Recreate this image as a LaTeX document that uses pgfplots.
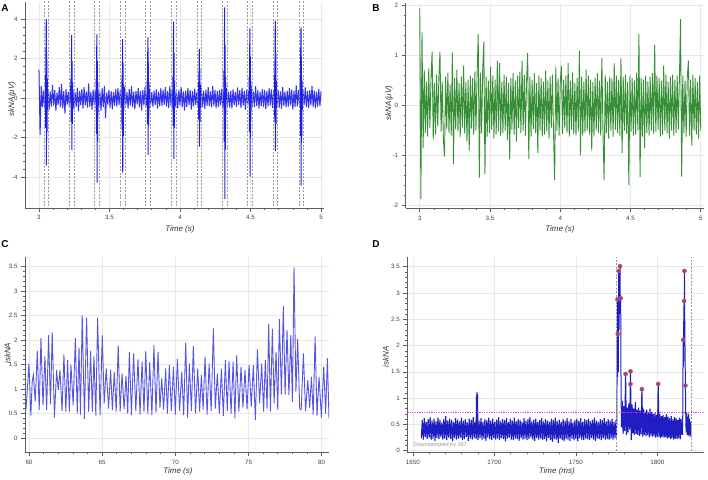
\documentclass[border=0pt]{standalone}
\usepackage{fontspec}
\setmainfont{Liberation Sans}
\usepackage{pgfplots}
\pgfplotsset{compat=1.18}

\definecolor{sigA}{RGB}{30,30,235}
\definecolor{sigB}{RGB}{20,125,20}
\definecolor{sigC}{RGB}{85,85,225}
\definecolor{sigD}{RGB}{30,30,195}
\definecolor{gridc}{RGB}{232,232,232}
\definecolor{axc}{RGB}{95,95,95}
\definecolor{dotf}{RGB}{105,85,145}
\definecolor{dotr}{RGB}{225,70,100}
\definecolor{thr}{RGB}{235,40,235}

\pgfplotsset{
  bk/.style={
    scale only axis,
    anchor=south west,
    axis lines*=left,
    axis line style={-, draw=axc, line width=0.8pt},
    tick align=outside,
    major tick length=4pt,
    minor tick length=2pt,
    every tick/.style={draw=axc, line width=0.6pt},
    minor tick num=4,
    grid=major,
    major grid style={draw=gridc, line width=0.6pt},
    tick label style={font=\fontsize{6.2}{7}\selectfont, text=black!75},
    /pgf/number format/assume math mode=true,
    /pgf/number format/1000 sep={},
    label style={font=\fontsize{8}{9}\selectfont\itshape, text=black!80},
    enlargelimits=false,
    clip=true,
    unbounded coords=jump,
  },
  dashline/.style={draw=black!40, dash pattern=on 2pt off 1.5pt, line width=0.5pt},
}

\begin{document}
\begin{tikzpicture}[x=1pt,y=1pt]
\useasboundingbox (0,0) rectangle (708,479);

% ---------------- A ----------------
\begin{axis}[bk,
  at={(25pt,271pt)}, width=299pt, height=206pt,
  xmin=2.901, xmax=5.021, ymin=-5.555, ymax=4.876,
  xtick={3,3.5,4,4.5,5}, ytick={-4,-2,0,2,4},
  xlabel={Time (s)}, ylabel={skNA(μV)},
  xlabel style={at={(rel axis cs:0.518,-0.102)}, anchor=center},
  ylabel style={at={(rel axis cs:-0.0435,0.529)}, anchor=center},
]
\addplot[sigA, line width=1pt, opacity=0.9] table[row sep=\\, header=false, x expr=3+\coordindex*0.008, y index=0] {
1.45\\ -1.85\\ 0.62\\ -0.45\\ 0.38\\ -0.52\\ 0.55\\ -0.33\\ 0.47\\ -0.58\\
0.33\\ -0.42\\ 0.68\\ -0.37\\ 0.41\\ -0.63\\ 0.28\\ -0.35\\ 0.57\\ -0.44\\
0.72\\ -0.51\\ 0.36\\ -0.78\\ 0.46\\ -0.32\\ 0.31\\ -0.47\\ 0.62\\ -0.38\\
0.42\\ -0.56\\ 0.31\\ -0.43\\ 0.52\\ -0.66\\ 0.37\\ -0.34\\ 0.48\\ -0.52\\
0.57\\ -0.36\\ 0.33\\ -0.47\\ 0.76\\ -0.42\\ 0.32\\ -0.57\\ 0.43\\ -0.33\\
0.37\\ -0.52\\ 0.47\\ -0.38\\ 0.33\\ -0.62\\ 0.52\\ -0.43\\ 0.63\\ -1.02\\
0.28\\ -0.32\\ 0.42\\ -0.47\\ 0.36\\ -0.56\\ 0.31\\ -0.37\\ 0.47\\ -0.42\\
0.52\\ -0.33\\ 0.37\\ -0.46\\ 0.32\\ -0.42\\ 0.57\\ -0.36\\ 0.31\\ -0.52\\
0.46\\ -0.37\\ 0.61\\ -0.46\\ 0.32\\ -0.56\\ 0.36\\ -0.31\\ 0.52\\ -0.46\\
0.36\\ -0.62\\ 0.41\\ -0.36\\ 0.56\\ -0.41\\ 0.31\\ -0.51\\ 0.46\\ -0.36\\
0.31\\ -0.43\\ 0.38\\ -0.35\\ 0.45\\ -0.52\\ 0.33\\ -0.41\\ 0.51\\ -0.38\\
0.44\\ -0.33\\ 0.56\\ -0.42\\ 0.36\\ -0.48\\ 0.62\\ -0.37\\ 0.41\\ -0.55\\
0.47\\ -0.39\\ 0.33\\ -0.51\\ 0.42\\ -0.36\\ 0.58\\ -0.44\\ 0.35\\ -0.62\\
0.39\\ -0.45\\ 0.53\\ -0.34\\ 0.43\\ -0.57\\ 0.36\\ -0.41\\ 0.49\\ -0.35\\
0.34\\ -0.48\\ 0.41\\ -0.37\\ 0.52\\ -0.43\\ 0.37\\ -0.53\\ 0.44\\ -0.38\\
0.56\\ -0.41\\ 0.35\\ -0.46\\ 0.62\\ -0.38\\ 0.42\\ -0.51\\ 0.36\\ -0.44\\
0.43\\ -0.36\\ 0.48\\ -0.55\\ 0.37\\ -0.42\\ 0.51\\ -0.39\\ 0.33\\ -0.47\\
0.38\\ -0.52\\ 0.45\\ -0.36\\ 0.32\\ -0.44\\ 0.55\\ -0.33\\ 0.41\\ -0.49\\
0.52\\ -0.37\\ 0.36\\ -0.58\\ 0.44\\ -0.35\\ 0.39\\ -0.46\\ 0.57\\ -0.41\\
0.35\\ -0.43\\ 0.62\\ -0.38\\ 0.41\\ -0.52\\ 0.34\\ -0.39\\ 0.47\\ -0.44\\
0.42\\ -0.55\\ 0.37\\ -0.41\\ 0.53\\ -0.36\\ 0.45\\ -0.48\\ 0.36\\ -0.52\\
0.48\\ -0.34\\ 0.41\\ -0.47\\ 0.35\\ -0.53\\ 0.57\\ -0.39\\ 0.33\\ -0.46\\
0.37\\ -0.42\\ 0.52\\ -0.36\\ 0.44\\ -0.57\\ 0.38\\ -0.45\\ 0.65\\ -0.41\\
0.43\\ -0.37\\ 0.39\\ -0.52\\ 0.46\\ -0.35\\ 0.55\\ -0.43\\ 0.36\\ -0.48\\
0.41\\ -0.36\\ 0.62\\ -0.44\\ 0.38\\ -0.51\\ 0.33\\ -0.42\\ 0.47\\ -0.39\\
0.35\\
};
\addplot[sigA, line width=1pt] coordinates {
(3.046,1.2)(3.048,-1.5)(3.050,2.8)(3.052,4.0)(3.053,-3.41)(3.055,2.4)(3.057,-1.7)(3.059,1.0)(3.061,-0.6)(3.061,nan)
(3.226,1.0)(3.228,-1.2)(3.230,2.2)(3.232,3.2)(3.233,-2.62)(3.235,1.9)(3.237,-1.3)(3.239,0.8)(3.241,-0.5)(3.241,nan)
(3.405,1.0)(3.407,-1.8)(3.409,2.3)(3.411,3.24)(3.412,-4.27)(3.414,1.9)(3.416,-2.2)(3.418,0.8)(3.420,-0.7)(3.420,nan)
(3.587,0.9)(3.589,-1.6)(3.591,2.1)(3.593,3.0)(3.594,-3.76)(3.596,1.8)(3.598,-1.9)(3.600,0.7)(3.602,-0.6)(3.602,nan)
(3.767,0.9)(3.769,-1.3)(3.771,2.2)(3.773,3.09)(3.774,-2.87)(3.776,1.8)(3.778,-1.4)(3.780,0.8)(3.782,-0.5)(3.782,nan)
(3.949,1.1)(3.951,-1.4)(3.953,2.7)(3.955,3.88)(3.956,-3.07)(3.958,2.3)(3.960,-1.5)(3.962,0.9)(3.964,-0.5)(3.964,nan)
(4.131,0.8)(4.133,-1.1)(4.135,1.8)(4.137,2.5)(4.138,-2.45)(4.140,1.5)(4.142,-1.2)(4.144,0.7)(4.146,-0.5)(4.146,nan)
(4.311,1.4)(4.313,-2.2)(4.315,3.2)(4.317,4.6)(4.318,-5.11)(4.320,2.7)(4.322,-2.6)(4.324,1.1)(4.326,-0.8)(4.326,nan)
(4.490,1.1)(4.492,-1.7)(4.494,2.5)(4.496,3.54)(4.497,-3.97)(4.499,2.1)(4.501,-2.0)(4.503,0.9)(4.505,-0.6)(4.505,nan)
(4.670,1.2)(4.672,-1.2)(4.674,2.8)(4.676,3.93)(4.677,-2.67)(4.679,2.3)(4.681,-1.3)(4.683,0.9)(4.685,-0.5)(4.685,nan)
(4.852,1.1)(4.854,-1.9)(4.856,2.5)(4.858,3.58)(4.859,-4.42)(4.861,2.1)(4.863,-2.2)(4.865,0.9)(4.867,-0.6)
};
\pgfplotsinvokeforeach{3.036,3.068,3.216,3.248,3.395,3.427,3.577,3.609,3.757,3.789,3.939,3.971,4.121,4.153,4.301,4.333,4.480,4.512,4.660,4.692,4.842,4.874}{
  \addplot[dashline] coordinates {(#1,-6)(#1,5)};
}
\end{axis}

% ---------------- B ----------------
\begin{axis}[bk,
  at={(405.7pt,270.7pt)}, width=298.3pt, height=205.3pt,
  xmin=2.900, xmax=5.023, ymin=-2.052, ymax=2.054,
  xtick={3,3.5,4,4.5,5}, ytick={-2,-1,0,1,2},
  xlabel={Time (s)}, ylabel={skNA(μV)},
  xlabel style={at={(rel axis cs:0.517,-0.101)}, anchor=center},
  ylabel style={at={(rel axis cs:-0.056,0.513)}, anchor=center},
]
\addplot[sigB, line width=0.9pt, opacity=0.85] table[row sep=\\, header=false, x expr=3+\coordindex*0.008, y index=0] {
1.95\\ -1.87\\ 1.48\\ -0.85\\ 0.72\\ -0.55\\ 0.48\\ -0.62\\ 0.75\\ -0.45\\
0.52\\ 1.08\\ -0.68\\ 0.45\\ -0.58\\ 0.62\\ -0.42\\ 0.55\\ 1.08\\ -0.52\\
0.48\\ -0.65\\ -1.02\\ 0.58\\ -0.47\\ 0.66\\ -0.55\\ 0.42\\ -0.6\\ 1.06\\
-1.17\\ 0.55\\ -0.48\\ 0.72\\ -0.52\\ 0.45\\ -0.63\\ 0.58\\ -0.44\\ 0.8\\
-0.56\\ 0.47\\ -0.72\\ 0.52\\ -0.9\\ 0.6\\ -0.46\\ 0.55\\ -0.58\\ 0.68\\
-0.5\\ 0.62\\ 1.43\\ -1.44\\ 0.66\\ -0.55\\ 0.72\\ 1.28\\ -1.37\\ 0.58\\
-0.62\\ 0.5\\ -0.55\\ 0.78\\ -0.48\\ 0.6\\ -0.66\\ 0.52\\ -0.58\\ 0.9\\
-0.52\\ 0.85\\ -0.6\\ 0.47\\ -0.55\\ 0.62\\ -0.5\\ 0.58\\ -0.68\\ 0.45\\
-1.07\\ 0.55\\ -0.48\\ 0.65\\ -0.58\\ 0.5\\ -0.72\\ 0.6\\ -0.45\\ 0.68\\
-0.55\\ 0.9\\ -0.5\\ 0.62\\ -0.6\\ 0.48\\ 1.05\\ -1.07\\ 0.58\\ -0.62\\
0.52\\ -0.47\\ 0.65\\ -0.55\\ 0.45\\ -0.95\\ 0.6\\ -0.5\\ 0.55\\ -0.62\\
0.48\\ -0.58\\ 0.7\\ -0.52\\ 0.5\\ -0.66\\ 0.58\\ -0.45\\ 0.62\\ -0.55\\
-1.49\\ 0.78\\ -0.5\\ 0.55\\ -0.6\\ 0.48\\ 0.8\\ -0.57\\ 0.52\\ -0.45\\
0.6\\ -0.55\\ 0.85\\ -0.62\\ 0.5\\ -0.48\\ 0.66\\ -0.58\\ 0.45\\ -0.6\\
0.55\\ -0.52\\ 1.1\\ -0.99\\ 0.58\\ -0.6\\ 0.48\\ -0.55\\ 0.72\\ -0.5\\
0.6\\ -0.58\\ 0.52\\ -0.9\\ 0.47\\ -0.62\\ 0.56\\ -0.5\\ 0.65\\ -0.55\\
0.5\\ -0.6\\ 0.95\\ -0.52\\ -1.49\\ 0.62\\ -0.55\\ 0.48\\ -0.66\\ 0.58\\
-0.5\\ 0.55\\ -0.62\\ 0.85\\ -0.48\\ 0.6\\ -0.55\\ 0.52\\ -0.6\\ 0.95\\
-0.95\\ 0.58\\ -0.5\\ 0.62\\ -0.56\\ 0.48\\ -1.59\\ 0.6\\ -0.52\\ 0.55\\
-0.6\\ 0.5\\ -0.58\\ 0.66\\ -0.5\\ 1.43\\ -1.43\\ 0.55\\ -0.62\\ 0.52\\
-0.85\\ 0.6\\ -0.55\\ 0.48\\ -0.6\\ 0.58\\ -0.5\\ 0.65\\ -0.56\\ 1.21\\
-0.52\\ 0.6\\ -0.48\\ 0.55\\ -0.62\\ 0.5\\ -0.58\\ 0.8\\ -0.5\\ 0.62\\
-0.55\\ 0.48\\ -0.66\\ 0.58\\ -0.5\\ 0.62\\ -0.6\\ 0.52\\ -0.55\\ 0.6\\
-0.48\\ 0.55\\ 1.73\\ -1.42\\ 0.6\\ -0.55\\ 0.5\\ -0.62\\ 0.58\\ 0.9\\
-0.6\\ 0.52\\ -0.8\\ 0.62\\ -0.5\\ 0.55\\ -0.58\\ 0.48\\ -0.66\\ 0.6\\
-0.5\\
};
\end{axis}

% ---------------- C ----------------
\begin{axis}[bk,
  at={(25pt,26.7pt)}, width=304pt, height=195pt,
  xmin=59.73, xmax=80.5, ymin=-0.29, ymax=3.69,
  xtick={60,65,70,75,80}, ytick={0,0.5,1,1.5,2,2.5,3,3.5},
  xlabel={Time (s)}, ylabel={iskNA},
  xlabel style={at={(rel axis cs:0.503,-0.096)}, anchor=center},
  ylabel style={at={(rel axis cs:-0.0576,0.508)}, anchor=center},
]
\addplot[sigC, line width=0.9pt] coordinates {
(59.80,0.58)(60.00,1.52)(60.13,0.46)(60.22,1.15)(60.30,1.29)(60.43,0.75)(60.57,1.78)(60.70,0.57)
(60.82,2.04)(60.96,0.67)(61.09,1.67)(61.21,0.57)(61.34,2.10)(61.47,0.69)(61.59,2.16)(61.74,0.42)
(61.89,1.39)(62.00,0.98)(62.12,1.39)(62.26,0.55)(62.39,1.71)(62.52,0.54)(62.64,1.59)(62.76,0.54)
(62.87,1.50)(63.02,0.67)(63.17,2.04)(63.30,0.50)(63.42,1.85)(63.52,0.48)(63.64,2.51)(63.79,0.39)
(63.94,2.46)(64.08,0.54)(64.21,1.78)(64.33,0.54)(64.44,1.67)(64.57,0.46)(64.69,2.46)(64.86,0.47)
(65.01,2.10)(65.14,0.71)(65.28,1.42)(65.44,0.60)(65.58,1.39)(65.70,0.57)(65.83,1.35)(65.96,0.54)
(66.10,1.89)(66.23,0.54)(66.36,1.32)(66.50,0.59)(66.63,1.27)(66.75,0.50)(66.86,1.76)(67.00,0.47)
(67.15,1.73)(67.30,0.55)(67.45,1.61)(67.59,0.48)(67.73,1.56)(67.86,0.53)(67.98,1.78)(68.12,0.50)
(68.25,1.55)(68.40,0.47)(68.54,1.89)(68.68,0.52)(68.82,1.76)(68.95,0.62)(69.07,1.22)(69.20,0.58)
(69.34,1.42)(69.46,0.50)(69.59,1.49)(69.73,0.55)(69.87,1.46)(70.00,0.48)(70.14,1.61)(70.29,0.55)
(70.44,1.35)(70.57,0.47)(70.71,1.95)(70.84,0.42)(70.96,1.52)(71.10,0.55)(71.23,1.88)(71.38,0.50)
(71.53,1.42)(71.66,0.54)(71.78,1.29)(71.90,0.58)(72.03,1.66)(72.17,0.48)(72.31,1.52)(72.45,0.55)
(72.60,2.24)(72.73,0.60)(72.87,1.32)(73.01,0.50)(73.15,1.42)(73.28,0.45)(73.42,1.59)(73.55,0.55)
(73.67,1.57)(73.81,0.50)(73.95,1.56)(74.07,0.41)(74.19,1.69)(74.34,0.54)(74.49,1.46)(74.62,0.62)
(74.76,1.39)(74.90,0.59)(75.04,1.49)(75.19,0.64)(75.33,1.49)(75.47,0.37)(75.61,1.81)(75.76,0.71)
(75.90,1.52)(76.03,0.54)(76.15,1.59)(76.27,0.60)(76.38,2.33)(76.50,0.54)(76.63,2.23)(76.75,0.71)
(76.88,1.76)(77.00,0.57)(77.11,2.43)(77.25,0.89)(77.38,2.70)(77.50,0.89)(77.63,2.21)(77.76,0.88)
(77.89,2.10)(78.00,0.74)(78.11,3.49)(78.24,0.95)(78.36,2.02)(78.50,0.60)(78.60,0.58)(78.75,1.73)
(78.90,0.55)(79.05,1.18)(79.18,0.62)(79.30,1.25)(79.42,0.48)(79.55,2.07)(79.68,0.45)(79.82,1.25)
(79.98,0.42)(80.14,1.46)(80.27,0.50)(80.39,1.63)(80.50,0.40)
};
\end{axis}

% ---------------- D ----------------
\begin{axis}[bk,
  at={(407.3pt,26.7pt)}, width=296.7pt, height=195pt,
  xmin=1646.6, xmax=1828.6, ymin=-0.03, ymax=3.68,
  xtick={1650,1700,1750,1800}, ytick={0,0.5,1,1.5,2,2.5,3,3.5},
  xlabel={Time (ms)}, ylabel={iskNA},
  xlabel style={at={(rel axis cs:0.504,-0.096)}, anchor=center},
  ylabel style={at={(rel axis cs:-0.073,0.489)}, anchor=center},
]
\addplot[sigD, line width=1.1pt] table[row sep=\\, header=false, x expr=1655.2+\coordindex*0.6, y index=0] {
0.24\\ 0.58\\ 0.21\\ 0.62\\ 0.26\\ 0.55\\ 0.22\\ 0.6\\ 0.25\\ 0.64\\
0.2\\ 0.57\\ 0.23\\ 0.61\\ 0.19\\ 0.56\\ 0.24\\ 0.63\\ 0.22\\ 0.59\\
0.26\\ 0.54\\ 0.21\\ 0.6\\ 0.23\\ 0.66\\ 0.2\\ 0.57\\ 0.25\\ 0.61\\
0.22\\ 0.58\\ 0.18\\ 0.55\\ 0.24\\ 0.62\\ 0.21\\ 0.59\\ 0.23\\ 0.56\\
0.25\\ 0.63\\ 0.2\\ 0.57\\ 0.22\\ 0.6\\ 0.26\\ 0.54\\ 0.19\\ 0.61\\
0.23\\ 0.58\\ 0.21\\ 0.64\\ 0.24\\ 0.56\\ 0.22\\ 0.6\\ 0.2\\ 0.57\\
0.24\\ 0.62\\ 0.21\\ 0.55\\ 0.23\\ 0.6\\ 0.19\\ 0.58\\ 0.25\\ 0.63\\
0.22\\ 0.57\\ 0.2\\ 0.61\\ 0.24\\ 0.55\\ 0.21\\ 0.59\\ 0.23\\ 0.64\\
0.2\\ 0.56\\ 0.24\\ 0.6\\ 0.22\\ 0.58\\ 0.18\\ 0.62\\ 0.23\\ 0.55\\
0.25\\ 0.61\\ 0.21\\ 0.57\\ 0.2\\ 0.63\\ 0.23\\ 0.56\\ 0.22\\ 0.6\\
0.19\\ 0.58\\ 0.24\\ 0.55\\ 0.21\\ 0.62\\ 0.23\\ 0.57\\ 0.2\\ 0.6\\
0.22\\ 0.64\\ 0.25\\ 0.56\\ 0.21\\ 0.59\\ 0.19\\ 0.61\\ 0.24\\ 0.55\\
0.21\\ 0.58\\ 0.23\\ 0.62\\ 0.2\\ 0.56\\ 0.22\\ 0.6\\ 0.18\\ 0.57\\
0.24\\ 0.55\\ 0.2\\ 0.61\\ 0.17\\ 0.58\\ 0.22\\ 0.63\\ 0.21\\ 0.56\\
0.15\\ 0.59\\ 0.23\\ 0.55\\ 0.2\\ 0.6\\ 0.18\\ 0.57\\ 0.22\\ 0.62\\
0.21\\ 0.56\\ 0.19\\ 0.6\\ 0.23\\ 0.54\\ 0.2\\ 0.58\\ 0.22\\ 0.61\\
0.18\\ 0.57\\ 0.24\\ 0.62\\ 0.21\\ 0.55\\ 0.2\\ 0.6\\ 0.23\\ 0.58\\
0.22\\ 0.61\\ 0.2\\ 0.56\\ 0.24\\ 0.59\\ 0.21\\ 0.63\\ 0.19\\ 0.57\\
0.23\\ 0.55\\ 0.22\\ 0.6\\ 0.2\\ 0.58\\ 0.24\\ 0.62\\ 0.21\\ 0.56\\
0.22\\ 0.6\\ 0.2\\ 0.57\\ 0.23\\ 0.61\\ 0.21\\ 0.55\\ 0.24\\ 0.58\\
};
\addplot[sigD, line width=1pt] coordinates {
(1688.8,0.3)(1689.0,1.05)(1689.1,0.25)(1689.3,1.12)(1689.5,0.3)(1689.7,1.08)(1689.9,0.45)
};
\addplot[sigD, line width=1pt] coordinates {
(1774.6,0.5)(1774.9,0.25)(1775.1,0.6)(1775.3,1.6)(1775.5,2.88)(1775.6,1.4)(1775.7,2.22)(1775.9,2.7)
(1776.0,1.5)(1776.2,3.1)(1776.3,3.42)(1776.5,2.3)(1776.7,3.0)(1776.9,3.3)(1777.1,3.51)(1777.3,2.6)
(1777.5,2.90)(1777.6,1.8)(1777.8,0.9)(1778.0,0.45)
};
\addplot[sigD, line width=1.1pt] table[row sep=\\, header=false, x expr=1778+\coordindex*0.5, y index=0] {
0.45\\ 0.95\\ 0.32\\ 0.85\\ 0.38\\ 1.46\\ 0.3\\ 0.82\\ 0.35\\ 0.9\\
0.4\\ 1.51\\ 0.2\\ 0.88\\ 0.33\\ 0.8\\ 0.3\\ 0.93\\ 0.32\\ 0.78\\
0.3\\ 0.82\\ 0.28\\ 0.76\\ 0.31\\ 1.17\\ 0.27\\ 0.8\\ 0.3\\ 0.75\\
0.28\\ 0.78\\ 0.3\\ 0.72\\ 0.26\\ 0.8\\ 0.29\\ 0.74\\ 0.27\\ 0.7\\
0.28\\ 0.72\\ 0.25\\ 0.68\\ 0.27\\ 1.27\\ 0.26\\ 0.7\\ 0.24\\ 0.66\\
0.27\\ 0.68\\ 0.25\\ 0.64\\ 0.26\\ 0.7\\ 0.23\\ 0.65\\ 0.25\\ 0.62\\
0.22\\ 0.66\\ 0.24\\ 0.6\\ 0.21\\ 0.64\\ 0.23\\ 0.62\\ 0.22\\ 0.58\\
0.24\\ 0.63\\ 0.22\\ 0.6\\ 0.3\\
};
\addplot[sigD, line width=1pt] coordinates {
(1815.0,0.3)(1815.3,0.62)(1815.5,0.3)(1815.8,2.11)(1816.0,1.6)(1816.2,2.6)(1816.4,2.85)(1816.5,2.2)
(1816.6,3.42)(1816.8,2.4)(1817.0,1.8)(1817.2,1.24)(1817.4,0.7)(1817.6,0.35)(1818.0,0.72)(1818.3,0.3)
(1818.6,0.65)(1818.9,0.28)(1819.2,0.7)(1819.5,0.3)(1819.8,0.6)(1820.1,0.26)(1820.4,0.55)(1820.6,0.3)
};
\addplot[only marks, mark=*, mark size=2pt, mark options={fill=dotf, draw=dotr, line width=0.6pt}] coordinates {
(1775.5,2.88)(1775.7,2.22)(1776.3,3.42)(1777.1,3.51)(1777.5,2.90)(1780.5,1.46)(1783.5,1.51)(1783.5,1.27)
(1790.5,1.17)(1800.5,1.27)(1815.8,2.11)(1816.4,2.85)(1816.6,3.42)(1817.2,1.24)
};
\addplot[thr, line width=1.2pt, dash pattern=on 1.2pt off 1.2pt] coordinates {(1646.6,0.73)(1828.6,0.73)};
\addplot[dashline] coordinates {(1774.7,-1)(1774.7,4)};
\addplot[dashline] coordinates {(1820.6,-1)(1820.6,4)};
\node[anchor=south west, font=\fontsize{5.5}{6}\selectfont, text=black!40, xshift=3pt, yshift=1pt] at (rel axis cs:0,0) {Downsampled by 167};
\end{axis}

\node[font=\bfseries\fontsize{10}{11}\selectfont] at (5pt,471pt) {A};
\node[font=\bfseries\fontsize{10}{11}\selectfont] at (376pt,471pt) {B};
\node[font=\bfseries\fontsize{10}{11}\selectfont] at (5pt,235pt) {C};
\node[font=\bfseries\fontsize{10}{11}\selectfont] at (376pt,235pt) {D};
\end{tikzpicture}
\end{document}
